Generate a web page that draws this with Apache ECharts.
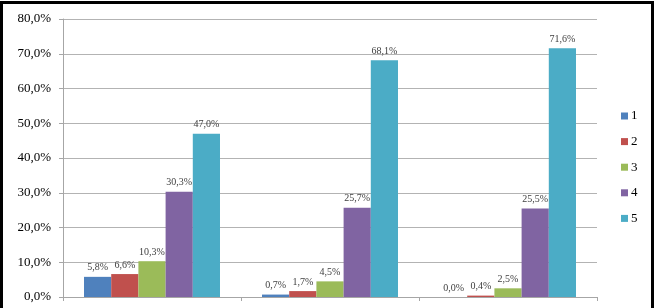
<!DOCTYPE html>
<html>
<head>
<meta charset="utf-8">
<script src="https://cdn.jsdelivr.net/npm/echarts@6/dist/echarts.min.js"></script>
<style>
  html, body { margin: 0; padding: 0; background: #fff; }
  #chart { width: 661px; height: 308px; }
</style>
</head>
<body>
<div id="chart"></div>
<script>
// data
const categories = ['A', 'B', 'C'];
const seriesNames = ['1', '2', '3', '4', '5'];
const s1 = [5.8, 0.7, 0.0];
const s2 = [6.6, 1.7, 0.4];
const s3 = [10.3, 4.5, 2.5];
const s4 = [30.3, 25.7, 25.5];
const s5 = [47.0, 68.1, 71.6];
const colors = ['#4F81BD', '#C0504D', '#9BBB59', '#8064A2', '#4BACC6'];

const values = [s1, s2, s3, s4, s5];
const font = '"Liberation Serif", "Times New Roman", serif';

function pct(v) {
    return v.toFixed(1).replace('.', ',') + '%';
}

var option = {
    animation: false,
    color: colors,
    graphic: [{
        type: 'rect',
        shape: { x: 1.5, y: 2.5, width: 651, height: 330 },
        style: { fill: 'none', stroke: '#000', lineWidth: 3 },
        z: 100
    }],
    grid: { left: 63, right: 64, top: 19, bottom: 11 },
    legend: {
        orient: 'vertical',
        left: 616,
        top: 103,
        itemWidth: 7,
        itemHeight: 7,
        itemGap: 9.6,
        icon: 'rect',
        textStyle: { fontFamily: font, fontSize: 13, color: '#000', lineHeight: 16, padding: [0, 0, 0, -2] },
        data: seriesNames
    },
    xAxis: {
        type: 'category',
        data: categories,
        axisLine: { lineStyle: { color: '#a6a6a6' } },
        axisTick: { show: true, length: 4, lineStyle: { color: '#a6a6a6' } },
        axisLabel: { show: false }
    },
    yAxis: {
        type: 'value',
        min: 0,
        max: 80,
        interval: 10,
        axisLine: { show: true, lineStyle: { color: '#a6a6a6' } },
        axisTick: { show: true, length: 4, lineStyle: { color: '#a6a6a6' } },
        splitLine: { lineStyle: { color: '#b3b3b3' } },
        axisLabel: {
            fontFamily: font,
            fontSize: 13,
            color: '#000',
            margin: 12,
            formatter: v => pct(v)
        }
    },
    series: seriesNames.map((name, i) => ({
        name: name,
        type: 'bar',
        data: values[i],
        barGap: 0,
        barCategoryGap: '23.6%',
        label: {
            show: true,
            position: 'top',
            distance: 4,
            fontFamily: font,
            fontSize: 10,
            color: '#404040',
            formatter: p => pct(p.value)
        }
    }))
};

var myChart = echarts.init(document.getElementById('chart'));
myChart.setOption(option);
</script>
</body>
</html>
